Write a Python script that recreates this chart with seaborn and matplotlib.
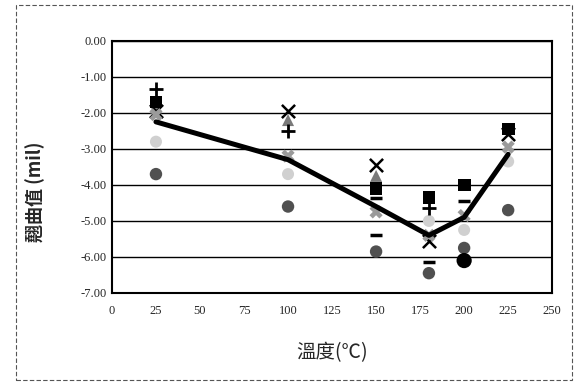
import numpy as np
import pandas as pd
import matplotlib
matplotlib.use("Agg")
import matplotlib.pyplot as plt
import seaborn as sns
from matplotlib.patches import Rectangle

sns.set_style("white")
plt.rcParams['font.family'] = ['Liberation Serif', 'Noto Sans CJK TC', 'DejaVu Sans']

nan = np.nan
temps = [25, 100, 150, 180, 200, 225]
s_plus = [-1.35, -2.5, nan, -4.65, nan, nan]
s_square = [-1.7, nan, -4.1, -4.35, -4.0, -2.45]
s_triangle = [-1.85, -2.2, -3.75, nan, nan, nan]
s_x = [-1.95, -1.95, -3.45, -5.55, nan, -2.6]
s_star = [-2.05, -3.2, -4.75, -5.4, -4.85, -2.95]
s_dark_circle = [-3.7, -4.6, -5.85, -6.45, -5.75, -4.7]
s_dash1 = [nan, nan, -4.35, -6.15, -4.45, nan]
s_dash2 = [nan, nan, -5.4, nan, nan, nan]
s_light_circle = [-2.8, -3.7, nan, -5.0, -5.25, -3.35]
s_black_circle = [nan, nan, nan, nan, -6.1, nan]
mean_line = [-2.25, -3.3, -4.6, -5.4, -4.9, -3.15]

series = [
    (s_light_circle, 'o', '#d0d0d0', 75, 0),
    (s_dark_circle, 'o', '#505050', 80, 0),
    (s_black_circle, 'o', '#000000', 120, 0),
    (s_triangle, '^', '#7a7a7a', 75, 0),
    (s_square, 's', '#000000', 85, 0),
    (s_plus, '+', '#000000', 100, 2.0),
    (s_x, 'x', '#000000', 90, 1.8),
    (s_dash1, '_', '#000000', 70, 2.5),
    (s_dash2, '_', '#000000', 70, 2.5),
    (s_star, 'X', '#9a9a9a', 90, 0),
]

fig = plt.figure(figsize=(5.77, 3.85), dpi=100)
ax = fig.add_axes([0.194, 0.239, 0.763, 0.655])

for vals, mk, col, sz, lw in series:
    df = pd.DataFrame({'t': temps, 'v': vals}).dropna()
    if mk in ('+', 'x', '_'):
        sns.scatterplot(data=df, x='t', y='v', marker=mk, color=col, s=sz,
                        linewidth=lw, ax=ax, zorder=3)
    else:
        sns.scatterplot(data=df, x='t', y='v', marker=mk, color=col, s=sz,
                        edgecolor='none', linewidth=0, ax=ax, zorder=3)

dfl = pd.DataFrame({'t': temps, 'v': mean_line})
sns.lineplot(data=dfl, x='t', y='v', color='black', linewidth=3.6, ax=ax, zorder=4)

ax.set_xlim(0, 250)
ax.set_ylim(-7, 0)
ax.set_xticks(np.arange(0, 251, 25))
ax.set_yticks(np.arange(-7, 0.01, 1))
ax.set_yticklabels([f"{v:.2f}" for v in np.arange(-7, 0.01, 1)])
ax.yaxis.grid(True, color='black', linewidth=1.0)
ax.xaxis.grid(False)
for sp in ax.spines.values():
    sp.set_color('black')
    sp.set_linewidth(1.5)
    sp.set_visible(True)
ax.tick_params(axis='both', length=0, labelsize=9)
ax.tick_params(axis='x', pad=9)
ax.tick_params(axis='y', pad=4)
ax.set_xlabel('溫度(℃)', fontsize=14, family=['Noto Sans CJK TC', 'DejaVu Sans'], labelpad=18)
ax.set_ylabel('翹曲值 (mil)', fontsize=13, fontweight='bold',
              family=['Noto Sans CJK TC', 'DejaVu Sans'])
ax.yaxis.set_label_coords(-0.152, 0.40)

fig.patches.append(Rectangle((0.027, 0.013), 0.965, 0.975, transform=fig.transFigure,
                             fill=False, edgecolor='#555555', linewidth=0.8,
                             linestyle=(0, (4, 2))))

fig.savefig('out.png', dpi=100)
